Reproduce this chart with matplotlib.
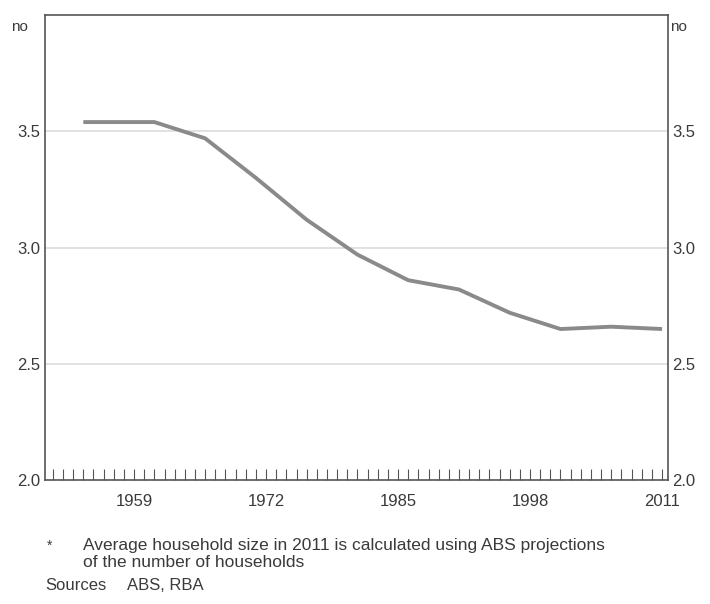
import matplotlib
matplotlib.use("Agg")
import matplotlib.pyplot as plt
import numpy as np

plt.rcParams['font.family'] = ['Liberation Sans', 'DejaVu Sans']

# census years and average household size (persons)
years = [1954, 1961, 1966, 1971, 1976, 1981, 1986, 1991, 1996, 2001, 2006, 2011]
size = [3.54, 3.54, 3.47, 3.30, 3.12, 2.97, 2.86, 2.82, 2.72, 2.65, 2.66, 2.65]

year_ticks = [1959, 1972, 1985, 1998, 2011]
y_ticks = [2.0, 2.5, 3.0, 3.5]

txt = '#3a3a3a'

fig = plt.figure(figsize=(7.1, 6.04), dpi=100)
ax = fig.add_axes([0.063, 0.205, 0.878, 0.77])

ax.plot(years, size, color='#8a8a8a', lw=2.8, solid_capstyle='butt')

ax.set_xlim(1950.2, 2011.6)
ax.set_ylim(2.0, 4.0)
for v in y_ticks[1:]:
    ax.axhline(v, color='#dcdcdc', lw=1.2, zorder=0)

ax.set_yticks(y_ticks)
ax.set_yticklabels(['%.1f' % v for v in y_ticks])
ax.set_xticks(year_ticks)
ax.set_xticks(np.arange(1951, 2012), minor=True)
# majors drawn like the yearly minors so the row of ticks has no gaps
ax.tick_params(axis='x', which='both', direction='in', length=8,
               color='#555555', width=0.8)
ax.tick_params(axis='x', which='major', pad=10, labelsize=12, colors=txt,
               color='#555555')
ax.tick_params(axis='y', length=0, pad=3, labelsize=12, colors=txt)

for s in ax.spines.values():
    s.set_color('#555555')
    s.set_linewidth(1.2)

ax2 = ax.twinx()
ax2.set_ylim(ax.get_ylim())
ax2.set_yticks(y_ticks)
ax2.set_yticklabels(['%.1f' % v for v in y_ticks])
ax2.tick_params(axis='y', length=0, pad=3, labelsize=12, colors=txt)
for s in ax2.spines.values():
    s.set_visible(False)

fig.text(0.015, 0.948, 'no', fontsize=11, color=txt)
fig.text(0.944, 0.948, 'no', fontsize=11, color=txt)

fig.text(0.066, 0.089, '*', fontsize=10, color=txt, va='baseline')
fig.text(0.117, 0.089, 'Average household size in 2011 is calculated using ABS projections',
         fontsize=12.5, color=txt, va='baseline')
fig.text(0.117, 0.061, 'of the number of households', fontsize=12.5, color=txt, va='baseline')
fig.text(0.064, 0.023, 'Sources', fontsize=12, color=txt, va='baseline')
fig.text(0.179, 0.023, 'ABS, RBA', fontsize=12, color=txt, va='baseline')

fig.savefig('out.png', dpi=100)
